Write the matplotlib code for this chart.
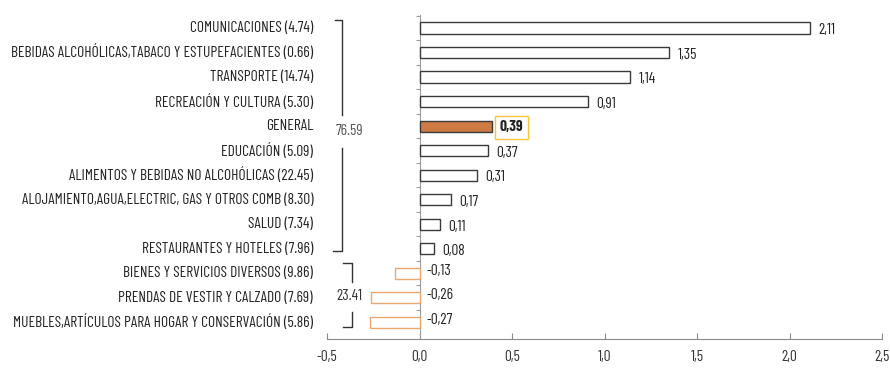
import matplotlib
matplotlib.use("Agg")
import matplotlib.pyplot as plt
import matplotlib.transforms as mtransforms

plt.rcParams['font.family'] = ['Barlow Condensed', 'Roboto Condensed', 'DejaVu Sans']

categories = [
    "COMUNICACIONES (4.74)",
    "BEBIDAS ALCOHÓLICAS,TABACO Y ESTUPEFACIENTES (0.66)",
    "TRANSPORTE (14.74)",
    "RECREACIÓN Y CULTURA (5.30)",
    "GENERAL",
    "EDUCACIÓN (5.09)",
    "ALIMENTOS Y BEBIDAS NO ALCOHÓLICAS (22.45)",
    "ALOJAMIENTO,AGUA,ELECTRIC, GAS Y OTROS COMB (8.30)",
    "SALUD (7.34)",
    "RESTAURANTES Y HOTELES (7.96)",
    "BIENES Y SERVICIOS DIVERSOS (9.86)",
    "PRENDAS DE VESTIR Y CALZADO (7.69)",
    "MUEBLES,ARTÍCULOS PARA HOGAR Y CONSERVACIÓN (5.86)",
]
values = [2.11, 1.35, 1.14, 0.91, 0.39, 0.37, 0.31, 0.17, 0.11, 0.08, -0.13, -0.26, -0.27]
group_labels = ["76.59", "23.41"]
xticks = [-0.5, 0.0, 0.5, 1.0, 1.5, 2.0, 2.5]
xticklabels = ["-0,5", "0,0", "0,5", "1,0", "1,5", "2,0", "2,5"]

W, H = 890, 371
fig = plt.figure(figsize=(W / 100, H / 100), dpi=100)
ax = fig.add_axes([327 / W, 1 - 339 / H, (882 - 327) / W, (339 - 15) / H])

n = len(values)
ys = list(range(n))
for i, (c, v) in enumerate(zip(categories, values)):
    if c == "GENERAL":
        fc, ec, lw = "#CD7A43", "#3a3a3a", 1.0
    elif v < 0:
        fc, ec, lw = "white", "#E9A66E", 1.0
    else:
        fc, ec, lw = "white", "#3a3a3a", 1.0
    ax.barh(i, v, height=0.45, color=fc, edgecolor=ec, linewidth=lw, zorder=3)

ax.set_xlim(-0.5, 2.5)
ax.set_ylim(n - 1 + 0.69, -0.53)

for s in ["top", "right"]:
    ax.spines[s].set_visible(False)
ax.spines["left"].set_position(("data", 0))
ax.spines["left"].set_color("#9a9a9a")
ax.spines["left"].set_linewidth(0.8)
ax.spines["bottom"].set_color("#8a8a8a")
ax.spines["bottom"].set_linewidth(0.8)

# size the label font so the longest label spans ~301 px, as in the reference
renderer = fig.canvas.get_renderer()
probe = fig.text(0, 0, max(categories, key=len), fontsize=10)
wpx = probe.get_window_extent(renderer).width
probe.remove()
fs = min(11.5, 10 * 301 / wpx)

ax.set_xticks(xticks)
ax.set_xticklabels(xticklabels, fontsize=fs, color="#333333")
ax.tick_params(axis="x", direction="in", length=4, color="#8a8a8a", pad=8)
ax.set_yticks([y + 0.5 for y in ys[:-1]] + [-0.5], minor=False)
ax.set_yticklabels([])
ax.tick_params(axis="y", direction="out", length=3, color="#9a9a9a")

tr = mtransforms.blended_transform_factory(ax.transAxes, ax.transData)
for i, c in enumerate(categories):
    ax.text(-0.025, i, c, transform=tr, ha="right", va="center", fontsize=fs, color="#222222")

for i, v in enumerate(values):
    lab = f"{v:.2f}".replace(".", ",")
    if categories[i] == "GENERAL":
        ax.text(v + 0.045, i + 0.05, lab, ha="left", va="center", fontsize=fs, fontweight="bold",
                color="#222222", zorder=4,
                bbox=dict(boxstyle="square,pad=0.3", fc="white", ec="#F2C53D", lw=1.0))
    elif v < 0:
        ax.text(0.04, i - 0.1, lab, ha="left", va="center", fontsize=fs, color="#222222")
    else:
        ax.text(v + 0.045, i + 0.1, lab, ha="left", va="center", fontsize=fs, color="#222222")

bc = "#333333"
# bracket 1
x1, h1 = -0.4216, -0.4568
ax.plot([h1, x1, x1], [-0.33, -0.33, 3.55], color=bc, lw=1.0, clip_on=False)
ax.plot([x1, x1, h1 - 0.01], [4.9, 9.1, 9.1], color=bc, lw=1.0, clip_on=False)
ax.text(-0.38, 4.2, group_labels[0], ha="center", va="center", fontsize=fs, color="#555555")
# bracket 2
x2, h2 = -0.3649, -0.4135
ax.plot([h2, x2, x2], [9.6, 9.6, 10.35], color=bc, lw=1.0, clip_on=False)
ax.plot([x2, x2, h2], [11.6, 12.2, 12.2], color=bc, lw=1.0, clip_on=False)
ax.text(-0.38, 10.95, group_labels[1], ha="center", va="center", fontsize=fs, color="#333333")

fig.savefig("out.png", dpi=100)
